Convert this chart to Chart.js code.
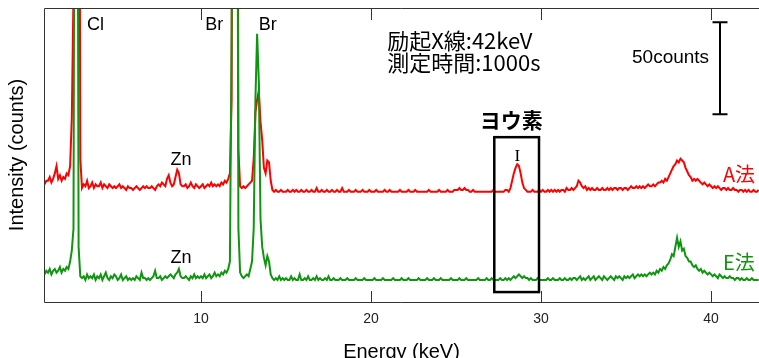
<!DOCTYPE html>
<html>
<head>
<meta charset="utf-8">
<script src="https://cdn.jsdelivr.net/npm/chart.js@4.4.1/dist/chart.umd.min.js"></script>
<style>
  html, body { margin: 0; padding: 0; background: #fff; overflow: hidden; }
  #wrap { width: 759px; height: 366px; }
</style>
</head>
<body>
<div id="wrap"><canvas id="myChart" width="759" height="366"></canvas></div>
<script>
// channel energies: first channel and step, keV
var energyStart = 0.8;
var energyStep = 0.1;

// E法 (green) counts per channel
var countsE = [
    15, 17,
    16, 18, 15, 17, 18, 16, 17, 19, 16, 18,   // 1
    17, 19, 18, 22, 28, 40, 420, 420, 30, 14,   // 2
    13, 14, 12, 15, 13, 14, 13, 15, 12, 14,   // 3
    13, 15, 12, 14, 16, 13, 12, 14, 13, 15,   // 4
    14, 12, 13, 15, 12, 13, 14, 12, 13, 12,   // 5
    13, 12, 14, 13, 12, 16, 13, 13, 12, 13,   // 6
    12, 13, 14, 17, 13, 13, 14, 12, 13, 14,   // 7
    13, 14, 15, 14, 13, 15, 16, 18, 14, 13,   // 8
    13, 14, 13, 12, 14, 13, 15, 13, 14, 13,   // 9
    14, 13, 15, 13, 14, 15, 13, 14, 16, 14,   // 10
    15, 14, 16, 15, 17, 16, 18, 22, 146, 420, // 11
    420, 420, 40, 16, 14, 13, 14, 15, 14, 18, // 12
    22, 40, 110, 146, 120, 45, 30, 24, 20, 25, // 13
    22, 15, 13, 12, 13, 12, 14, 12, 13, 12,   // 14
    13, 12, 12, 14, 12, 13, 12, 12, 15, 12,   // 15
    12, 13, 12, 14, 12, 12, 13, 12, 14, 12,   // 16
    13, 12, 12, 13, 12, 14, 12, 12, 13, 12,   // 17
    12, 12, 13, 12, 12, 12, 13, 12, 12, 12,   // 18
    12, 13, 12, 12, 12, 12, 13, 12, 12, 12,   // 19
    12, 12, 13, 12, 12, 12, 12, 13, 12, 12,   // 20
    12, 12, 12, 13, 12, 12, 12, 12, 13, 12,   // 21
    12, 12, 13, 12, 12, 12, 12, 12, 13, 12,   // 22
    12, 12, 12, 13, 12, 12, 12, 13, 12, 12,   // 23
    12, 13, 12, 12, 12, 12, 12, 13, 12, 12,   // 24
    12, 12, 13, 12, 12, 12, 13, 12, 12, 12,   // 25
    12, 12, 12, 13, 12, 12, 12, 12, 13, 12,   // 26
    12, 13, 12, 12, 12, 12, 13, 12, 12, 13,   // 27
    12, 13, 12, 13, 14, 13, 14, 15, 14, 13,   // 28
    14, 13, 13, 12, 13, 12, 12, 12, 13, 12,   // 29
    12, 12, 12, 12, 13, 12, 12, 13, 12, 12,   // 30
    12, 13, 12, 12, 13, 12, 12, 13, 12, 13,   // 31
    13, 12, 13, 14, 12, 13, 12, 13, 14, 12,   // 32
    13, 14, 12, 13, 14, 13, 12, 14, 13, 12,   // 33
    13, 14, 13, 12, 14, 13, 14, 13, 12, 14,   // 34
    13, 14, 13, 14, 15, 13, 14, 15, 14, 15,   // 35
    14, 15, 14, 15, 16, 15, 16, 15, 17, 16,   // 36
    18, 17, 19, 18, 20, 21, 23, 26, 25, 30,   // 37
    35, 30, 33, 28, 29, 25, 24, 22, 22, 20,   // 38
    19, 20, 18, 17, 18, 16, 17, 16, 15, 16,   // 39
    15, 14, 15, 14, 13, 15, 14, 13, 14, 13,   // 40
    13, 14, 13, 13, 12, 13, 13, 12, 13, 12,   // 41
    12, 13, 12, 12, 13, 12, 12, 12, 12        // 42
];

// A法 (red) counts per channel
var countsA = [
    16, 18,
    18, 20, 17, 19, 22, 26, 19, 21, 18, 20,   // 1
    19, 22, 21, 26, 52, 120, 420, 420, 420, 30, // 2
    14, 16, 15, 18, 14, 15, 17, 14, 16, 15,   // 3
    15, 17, 14, 16, 15, 14, 16, 15, 14, 15,   // 4
    14, 15, 16, 14, 15, 14, 13, 15, 14, 14,   // 5
    13, 14, 15, 14, 13, 14, 15, 14, 15, 14,   // 6
    14, 15, 14, 13, 15, 16, 15, 17, 16, 15,   // 7
    19, 21, 17, 15, 16, 20, 24, 22, 16, 15,   // 8
    15, 16, 14, 15, 17, 15, 14, 16, 15, 14,   // 9
    15, 16, 14, 15, 16, 15, 17, 15, 16, 15,   // 10
    16, 15, 17, 16, 18, 17, 19, 22, 62, 420,  // 11
    420, 420, 35, 15, 14, 15, 14, 15, 16, 17, // 12
    18, 30, 55, 62, 67, 50, 40, 25, 22, 29,   // 13
    28, 18, 13, 12, 13, 12, 12, 13, 12, 12,   // 14
    12, 13, 12, 12, 13, 12, 13, 12, 12, 13,   // 15
    12, 12, 13, 12, 12, 13, 12, 12, 14, 12,   // 16
    12, 13, 12, 12, 13, 12, 12, 13, 12, 12,   // 17
    13, 12, 12, 14, 12, 12, 12, 13, 12, 12,   // 18
    12, 13, 12, 12, 12, 13, 12, 12, 12, 13,   // 19
    12, 12, 12, 13, 12, 12, 12, 12, 13, 12,   // 20
    12, 13, 12, 12, 12, 12, 12, 13, 12, 12,   // 21
    12, 12, 13, 12, 12, 12, 13, 12, 12, 12,   // 22
    12, 12, 12, 12, 13, 12, 12, 12, 12, 12,   // 23
    13, 12, 12, 12, 12, 13, 12, 12, 12, 13,   // 24
    13, 13, 14, 13, 13, 14, 13, 13, 12, 12,   // 25
    13, 12, 12, 12, 12, 12, 12, 12, 12, 12,   // 26
    12, 12, 13, 12, 12, 12, 12, 12, 12, 13,   // 27
    13, 12, 14, 18, 22, 25, 27, 26, 22, 17,   // 28
    14, 13, 12, 12, 12, 13, 12, 12, 12, 13,   // 29
    12, 13, 12, 12, 13, 12, 13, 12, 13, 12,   // 30
    13, 12, 13, 13, 12, 14, 13, 13, 14, 13,   // 31
    14, 15, 18, 17, 15, 14, 15, 13, 14, 13,   // 32
    14, 13, 13, 14, 13, 13, 14, 13, 13, 14,   // 33
    13, 14, 13, 14, 14, 13, 14, 14, 13, 14,   // 34
    14, 13, 14, 15, 14, 14, 15, 14, 15, 14,   // 35
    15, 14, 15, 16, 15, 15, 16, 15, 16, 17,   // 36
    17, 18, 17, 19, 18, 20, 22, 24, 26, 27,   // 37
    29, 28, 30, 29, 28, 25, 23, 21, 20, 18,   // 38
    19, 18, 19, 18, 17, 16, 17, 16, 15, 16,   // 39
    15, 14, 15, 14, 15, 14, 13, 14, 14, 13,   // 40
    14, 13, 13, 14, 13, 13, 12, 13, 13, 12,   // 41
    13, 12, 13, 12, 12, 13, 12, 12, 13        // 42
];

var offsetA = 48;          // A法 is drawn shifted up by this many counts
var xTicks = [10, 20, 30, 40];
var scaleBarCounts = 50;

var green = '#0e960e';
var red = '#ff0000';
var jp = '"Noto Sans CJK JP", sans-serif';
var lat = '"Liberation Sans", Arial, sans-serif';

function toPoints(counts, shift) {
    var pts = [];
    for (let i = 0; i < counts.length; i++) {
        let e = Math.round((energyStart + i * energyStep) * 10) / 10;
        pts.push({ x: e, y: counts[i] + shift });
    }
    return pts;
}

// labels placed in data coordinates (keV, counts)
var labels = [
    { text: 'Cl', x: 3.3, y: 151, font: '18px ' + lat, color: '#000', align: 'left' },
    { text: 'Br', x: 10.25, y: 151, font: '18px ' + lat, color: '#000', align: 'left' },
    { text: 'Br', x: 13.4, y: 151, font: '18px ' + lat, color: '#000', align: 'left' },
    { text: 'Zn', x: 8.2, y: 77, font: '18px ' + lat, color: '#000', align: 'left' },
    { text: 'Zn', x: 8.2, y: 24, font: '18px ' + lat, color: '#000', align: 'left' },
    { text: 'I', x: 28.6, y: 79, font: '17px "Liberation Serif", serif', color: '#000', align: 'center' },
    { text: 'ヨウ素', x: 28.25, y: 99, font: 'bold 21px ' + jp, color: '#000', align: 'center' },
    { text: '励起X線:42keV', x: 20.95, y: 142, font: '22px ' + jp, color: '#000', align: 'left' },
    { text: '測定時間:1000s', x: 20.95, y: 130, font: '22px ' + jp, color: '#000', align: 'left' },
    { text: '50counts', x: 35.35, y: 133, font: '19px ' + lat, color: '#000', align: 'left' },
    { text: 'A法', x: 40.7, y: 69.5, font: '20px ' + jp, color: red, align: 'left' },
    { text: 'E法', x: 40.7, y: 21.8, font: '20px ' + jp, color: green, align: 'left' }
];

var decoPlugin = {
    id: 'deco',
    afterDatasetsDraw: function (chart) {
        var ctx = chart.ctx, xs = chart.scales.x, ys = chart.scales.y, a = chart.chartArea;
        ctx.save();

        // frame (left, top, bottom) with inward ticks top and bottom
        ctx.strokeStyle = '#333';
        ctx.lineWidth = 1;
        ctx.beginPath();
        ctx.moveTo(a.right, a.top + 0.5);
        ctx.lineTo(a.left + 0.5, a.top + 0.5);
        ctx.lineTo(a.left + 0.5, a.bottom + 0.5);
        ctx.lineTo(a.right, a.bottom + 0.5);
        ctx.stroke();
        xTicks.forEach(function (v) {
            var px = Math.round(xs.getPixelForValue(v)) + 0.5;
            ctx.beginPath();
            ctx.moveTo(px, a.top);
            ctx.lineTo(px, a.top + 12);
            ctx.moveTo(px, a.bottom);
            ctx.lineTo(px, a.bottom - 11);
            ctx.stroke();
        });

        // iodine box
        ctx.strokeStyle = '#000';
        ctx.lineWidth = 2.5;
        var bx1 = xs.getPixelForValue(27.25), bx2 = xs.getPixelForValue(29.88);
        var by1 = ys.getPixelForValue(89.7), by2 = ys.getPixelForValue(5.4);
        ctx.strokeRect(bx1, by1, bx2 - bx1, by2 - by1);

        // scale bar, 50 counts
        ctx.lineWidth = 2;
        var sx = Math.round(xs.getPixelForValue(40.5));
        var sTop = ys.getPixelForValue(102.2 + scaleBarCounts), sBot = ys.getPixelForValue(102.2);
        ctx.beginPath();
        ctx.moveTo(sx, sTop); ctx.lineTo(sx, sBot);
        ctx.moveTo(sx - 7.5, sTop); ctx.lineTo(sx + 7.5, sTop);
        ctx.moveTo(sx - 7.5, sBot); ctx.lineTo(sx + 7.5, sBot);
        ctx.stroke();

        // text labels
        ctx.textBaseline = 'middle';
        labels.forEach(function (l) {
            ctx.font = l.font;
            ctx.fillStyle = l.color;
            ctx.textAlign = l.align;
            ctx.fillText(l.text, xs.getPixelForValue(l.x), ys.getPixelForValue(l.y));
        });
        ctx.restore();
    }
};

var ctx = document.getElementById('myChart').getContext('2d');
var myChart = new Chart(ctx, {
    type: 'line',
    data: {
        datasets: [{
            label: 'E法',
            data: toPoints(countsE, 0),
            borderColor: green,
            borderWidth: 2,
            pointRadius: 0,
            tension: 0,
            order: 0
        }, {
            label: 'A法',
            data: toPoints(countsA, offsetA),
            borderColor: red,
            borderWidth: 2,
            pointRadius: 0,
            tension: 0,
            order: 1
        }]
    },
    options: {
        responsive: false,
        animation: false,
        devicePixelRatio: 1,
        layout: { padding: { top: 8, right: 0, left: 0, bottom: 0 } },
        plugins: { legend: { display: false }, tooltip: { enabled: false } },
        scales: {
            x: {
                type: 'linear',
                min: 0.765,
                max: 42.82,
                grid: { display: false, drawTicks: false },
                border: { display: false },
                afterBuildTicks: function (scale) {
                    scale.ticks = xTicks.map(function (v) { return { value: v }; });
                },
                afterFit: function (scale) { scale.height = 64; },
                ticks: {
                    autoSkip: false,
                    maxRotation: 0,
                    padding: 9,
                    color: '#222',
                    font: { family: lat, size: 14 }
                },
                title: {
                    display: true,
                    text: 'Energy (keV)',
                    color: '#000',
                    font: { family: lat, size: 20 },
                    padding: { top: 0, bottom: 2 }
                }
            },
            y: {
                min: 0,
                max: 160,
                grid: { display: false, drawTicks: false },
                border: { display: false },
                ticks: { display: false },
                afterFit: function (scale) { scale.width = 44; },
                title: {
                    display: true,
                    text: 'Intensity (counts)',
                    color: '#000',
                    font: { family: lat, size: 20 },
                    padding: { top: 5, bottom: 0 }
                }
            }
        }
    },
    plugins: [decoPlugin]
});
</script>
</body>
</html>
